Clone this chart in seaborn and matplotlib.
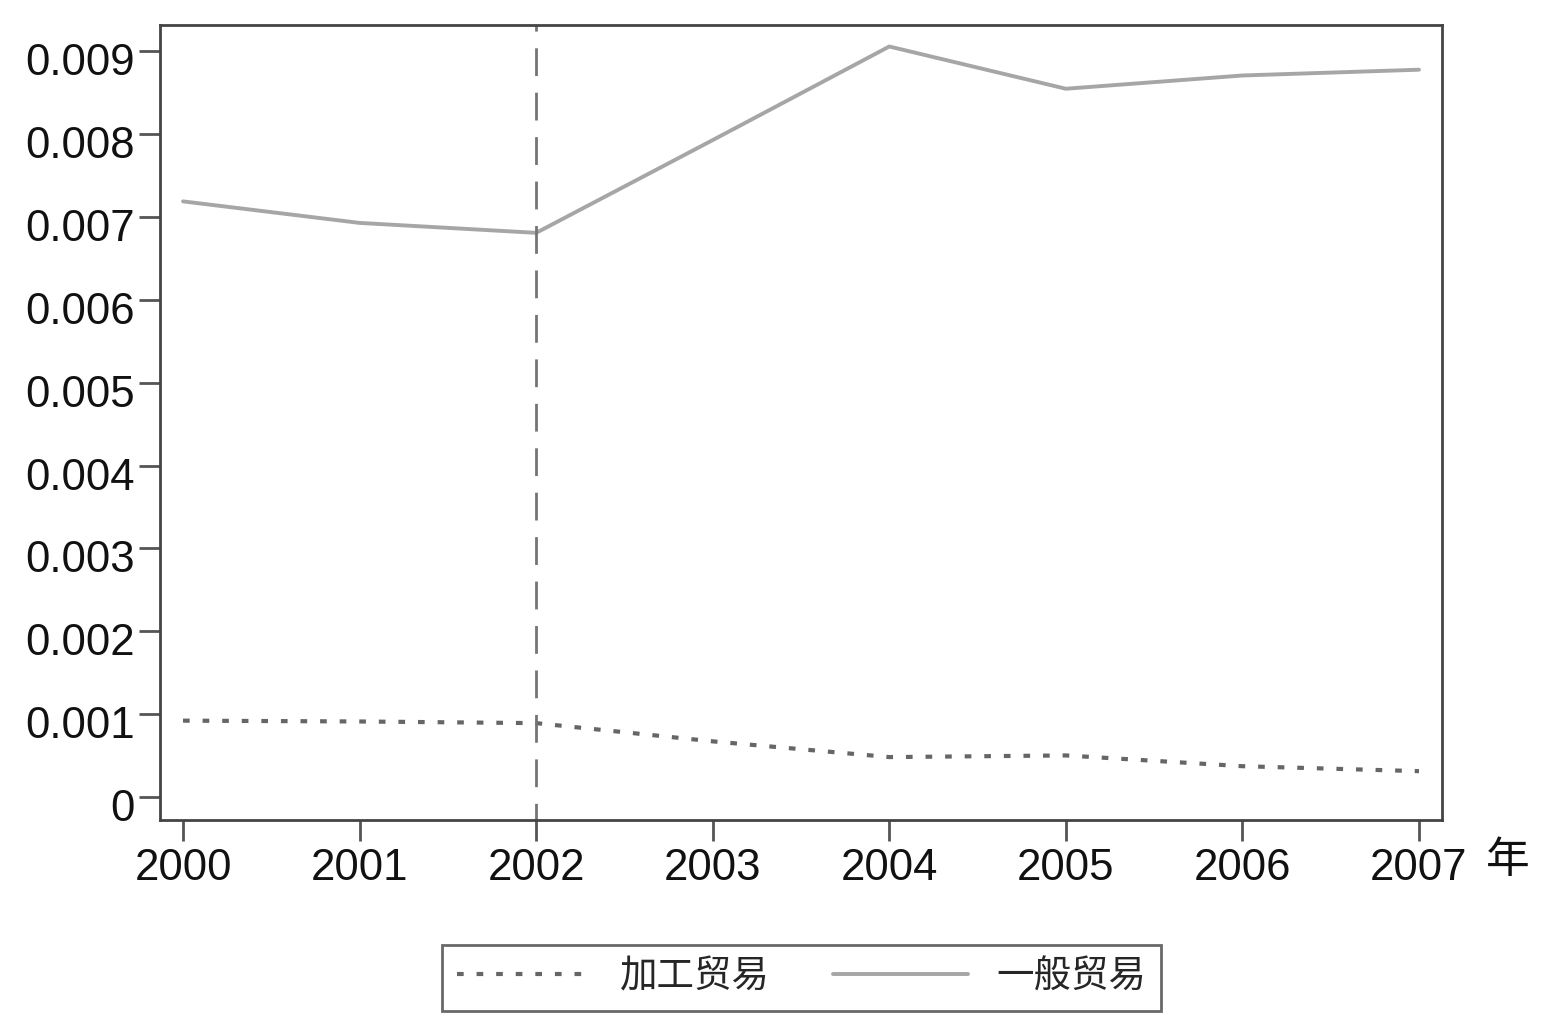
import matplotlib
matplotlib.use('Agg')
import matplotlib.pyplot as plt
import matplotlib.transforms as mtransforms
import seaborn as sns
import pandas as pd
from matplotlib.ticker import FixedLocator, FuncFormatter

# data
years = [2000, 2001, 2002, 2003, 2004, 2005, 2006, 2007]
processing = [0.00092, 0.00091, 0.00089, 0.00067, 0.00048, 0.00050, 0.00037, 0.00031]
general = [0.00719, 0.00693, 0.00681, 0.00793, 0.00906, 0.00855, 0.00871, 0.00878]
series_names = ['加工贸易', '一般贸易']
y_ticks = [0, 0.001, 0.002, 0.003, 0.004, 0.005, 0.006, 0.007, 0.008, 0.009]
break_year = 2002
unit_label = '年'

sns.set_style('ticks')
plt.rcParams['font.family'] = ['Liberation Sans', 'Noto Sans CJK SC', 'DejaVu Sans']

df = pd.DataFrame({'year': years, series_names[0]: processing, series_names[1]: general})

fig = plt.figure(figsize=(15.45, 10.32), dpi=100)
ax = fig.add_axes([0.1036, 0.2054, 0.8297, 0.7704])

sns.lineplot(data=df, x='year', y=series_names[0], ax=ax, color='#666666',
             linewidth=3, linestyle=(0, (1.6, 3.1)), label=series_names[0])
sns.lineplot(data=df, x='year', y=series_names[1], ax=ax, color='#a6a6a6',
             linewidth=2.8, label=series_names[1])
ax.axvline(break_year, color='#747474', linewidth=2, linestyle=(4, (10, 6)))

ax.set_xlim(1999.87, 2007.13)
ax.set_ylim(-0.00028, 0.00932)
ax.xaxis.set_major_locator(FixedLocator(years))
ax.yaxis.set_major_locator(FixedLocator(y_ticks))
ax.yaxis.set_major_formatter(FuncFormatter(lambda v, p: '0' if abs(v) < 1e-9 else f'{v:.3f}'))
ax.set_xlabel('')
ax.set_ylabel('')

for s in ax.spines.values():
    s.set_color('#444444')
    s.set_linewidth(2)
ax.tick_params(axis='both', length=15, width=2, color='#555555', labelsize=31.5,
               labelcolor='#111111')
ax.tick_params(axis='y', pad=3)
ax.tick_params(axis='x', pad=5)

# y labels sit a little below their ticks in the reference
shift = mtransforms.ScaledTranslation(0, -8 / 100, fig.dpi_scale_trans)
for lab in ax.get_yticklabels():
    lab.set_transform(lab.get_transform() + shift)

ax.text(2007.5, -0.00078, unit_label, fontsize=31.5, color='#111111',
        ha='center', va='center')

ax.get_legend().remove()
handles, labels = ax.get_legend_handles_labels()
leg = fig.legend(handles[:2], labels[:2], loc='center', bbox_to_anchor=(0.5188, 0.0528),
                 ncol=2, fontsize=27, frameon=True, fancybox=False,
                 handlelength=3.6, handletextpad=0.75, columnspacing=1.68,
                 borderpad=0.4, borderaxespad=0)
leg.get_frame().set_edgecolor('#444444')
leg.get_frame().set_linewidth(2)

fig.savefig('out.png', dpi=100)
